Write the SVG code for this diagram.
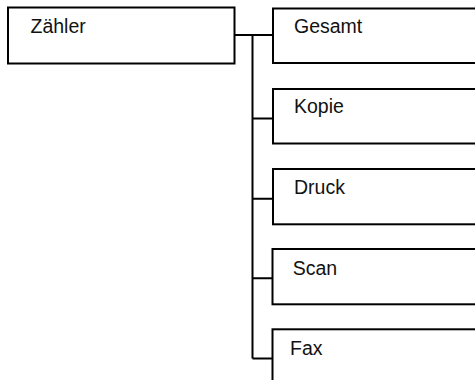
<svg xmlns="http://www.w3.org/2000/svg" width="475" height="380" viewBox="0 0 475 380">
<style>
.box{fill:#fff;stroke:#000;stroke-width:2}
.lbl{font-family:"Liberation Sans",Arial,sans-serif;font-size:19.5px;fill:#111}
.con{fill:none;stroke:#000;stroke-width:2}
</style>
<rect width="475" height="380" fill="#fff"/>
<g id="connectors">
<path class="con" d="M234.5 35H273M252.5 35V358.5M252.5 118.5H273M252.5 198.7H273M252.5 278.3H272.5M252.5 358.5H272.5"/>
</g>
<g id="node-zaehler"><rect class="box" x="8" y="7.5" width="226.5" height="56"/><text class="lbl" x="30.5" y="32.5">Zähler</text></g>
<g id="node-gesamt"><rect class="box" x="273" y="8.5" width="220" height="54.5"/><text class="lbl" x="294" y="33">Gesamt</text></g>
<g id="node-kopie"><rect class="box" x="273" y="89" width="220" height="54.5"/><text class="lbl" x="294" y="113.3">Kopie</text></g>
<g id="node-druck"><rect class="box" x="273" y="169" width="220" height="55.3"/><text class="lbl" x="294" y="194.3">Druck</text></g>
<g id="node-scan"><rect class="box" x="272.5" y="249" width="220" height="55.3"/><text class="lbl" x="292.7" y="275">Scan</text></g>
<g id="node-fax"><rect class="box" x="272.5" y="329.3" width="220" height="80"/><text class="lbl" x="290" y="355">Fax</text></g>
</svg>
